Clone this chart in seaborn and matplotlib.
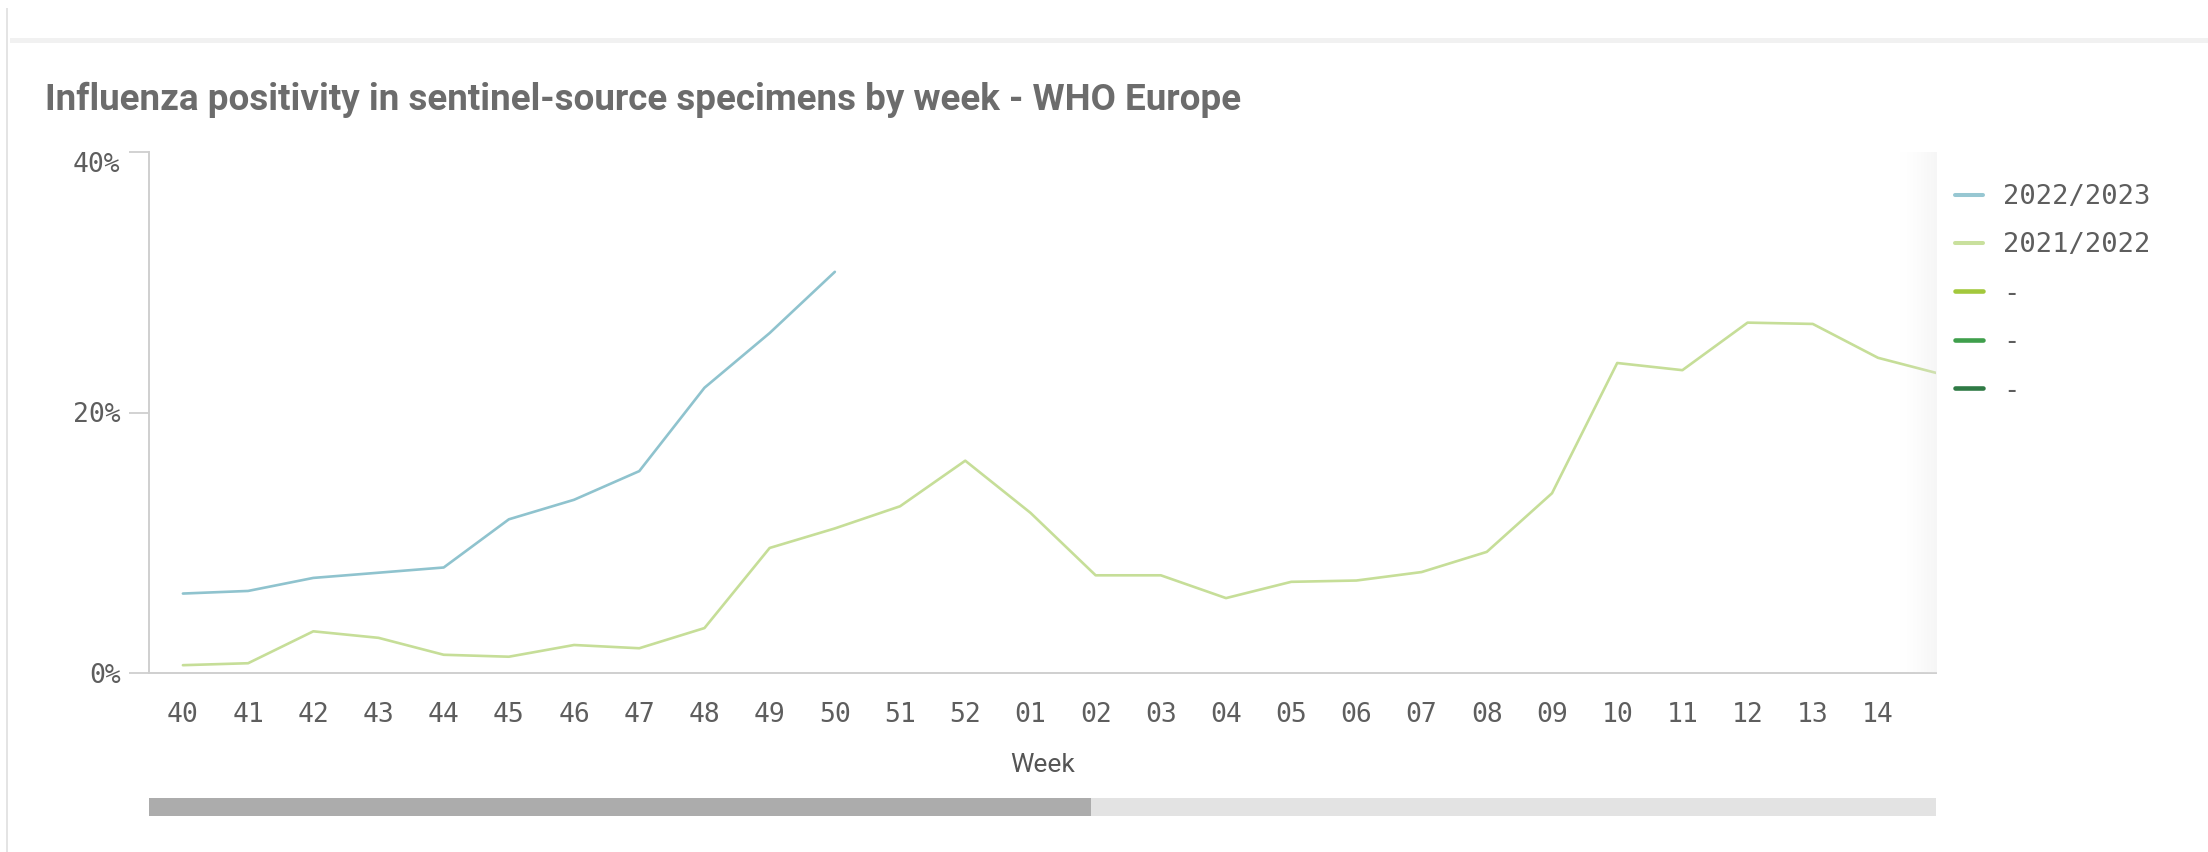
import numpy as np
import pandas as pd
import matplotlib
matplotlib.use("Agg")
import matplotlib.pyplot as plt
import seaborn as sns
from matplotlib.lines import Line2D
from matplotlib.patches import Rectangle
from matplotlib.ticker import FixedLocator, FuncFormatter

# ISO weeks of the season (week 15 sits just past the visible window)
weeks = ["40", "41", "42", "43", "44", "45", "46", "47", "48", "49", "50", "51", "52",
         "01", "02", "03", "04", "05", "06", "07", "08", "09", "10", "11", "12", "13",
         "14", "15"]

# Share of sentinel specimens testing positive for influenza (%)
season_2022_23 = [6.1, 6.3, 7.3, 7.7, 8.1, 11.8, 13.3, 15.5, 21.9, 26.1, 30.8]
season_2021_22 = [0.6, 0.75, 3.2, 2.7, 1.4, 1.25, 2.15, 1.9, 3.45, 9.6, 11.1, 12.8, 16.3,
                  12.3, 7.5, 7.5, 5.75, 7.0, 7.1, 7.75, 9.3, 13.8, 23.8, 23.25, 26.9,
                  26.8, 24.2, 22.9]

legend_labels = ["2022/2023", "2021/2022", "-", "-", "-"]
legend_colors = ["#97c7d2", "#c9e09d", "#a3c83c", "#3f9f4c", "#2f7a45"]
line_colors = {"2022/2023": "#8fc3ce", "2021/2022": "#c6de98"}

y_ticks = [0, 20, 40]

df = pd.concat([
    pd.DataFrame({"pos": np.arange(len(season_2022_23)),
                  "value": season_2022_23, "season": "2022/2023"}),
    pd.DataFrame({"pos": np.arange(len(season_2021_22)),
                  "value": season_2021_22, "season": "2021/2022"}),
], ignore_index=True)

sns.set_theme(style="white")
plt.rcParams["font.family"] = ["DejaVu Sans"]

W, H = 2208, 852
fig = plt.figure(figsize=(W / 100, H / 100), dpi=100)
fig.patch.set_facecolor("white")

# panel frame: thin band on top and left edge
fig.add_artist(Rectangle((10 / W, 1 - 43 / H), 1, 5 / H, transform=fig.transFigure,
                         facecolor="#f1f1f1", edgecolor="none"))
fig.add_artist(Rectangle((6 / W, 0), 2 / W, 1 - 8 / H, transform=fig.transFigure,
                         facecolor="#e4e4e4", edgecolor="none"))

ax = fig.add_axes([149 / W, (H - 673) / H, (1936 - 149) / W, (673 - 152) / H])

sns.lineplot(data=df, x="pos", y="value", hue="season", palette=line_colors,
             linewidth=1.9, legend=False, ax=ax)

ax.set_xlim(-0.52, 26.89)
ax.set_ylim(0, 40)

mono = "DejaVu Sans Mono"
tick_color = "#5e5e5e"
ax.xaxis.set_major_locator(FixedLocator(range(len(weeks))))
ax.set_xticklabels(weeks)
ax.yaxis.set_major_locator(FixedLocator(y_ticks))
ax.yaxis.set_major_formatter(FuncFormatter(lambda v, p: f"{v:.0f}%"))

ax.tick_params(axis="x", length=0, pad=21, labelsize=19, labelcolor=tick_color)
ax.tick_params(axis="y", length=14.4, width=1.3, color="#cfcfcf", pad=6,
               labelsize=19, labelcolor=tick_color, left=True)
for lab in ax.get_xticklabels() + ax.get_yticklabels():
    lab.set_family(mono)
ax.get_yticklabels()[-1].set_verticalalignment("top")

for side in ("top", "right"):
    ax.spines[side].set_visible(False)
for side in ("left", "bottom"):
    ax.spines[side].set_color("#cfcfcf")
    ax.spines[side].set_linewidth(1.4)

ax.set_xlabel("Week", family=["Roboto", "DejaVu Sans"],
              fontsize=19, color="#555555", va="center")
ax.xaxis.set_label_coords(0.5, (673 - 765) / (673 - 152))
ax.set_ylabel("")

# fade at the right edge of the scrolled plot area
grad = np.linspace(0, 1, 64).reshape(1, -1)
fade = np.zeros((1, 64, 4))
fade[..., :3] = 0.90
fade[..., 3] = grad ** 1.5 * 0.35
ax.imshow(fade, extent=(26.3, 26.89, 0, 40), aspect="auto", zorder=5,
          interpolation="bilinear")
ax.set_xlim(-0.52, 26.89)
ax.set_ylim(0, 40)

# title
fig.text(45 / W, 1 - 110 / H,
         "Influenza positivity in sentinel-source specimens by week - WHO Europe",
         family=["Roboto", "DejaVu Sans"], fontweight="bold",
         fontsize=26.5, color="#6c6c6c", va="baseline", ha="left")

# legend
handles = [Line2D([0], [0], color=c, lw=lw)
           for c, lw in zip(legend_colors, [2.9, 2.9, 3.3, 3.3, 3.3])]
leg = fig.legend(handles, legend_labels, loc="upper left",
                 bbox_to_anchor=(1955 / W, 1 - 184 / H), frameon=False,
                 borderpad=0, borderaxespad=0, handlelength=1.03, handletextpad=0.74,
                 labelspacing=0.83, prop={"family": mono, "size": 19.5})
for t in leg.get_texts():
    t.set_color(tick_color)

# scroll bar under the chart
fig.add_artist(Rectangle((149 / W, 1 - 816 / H), (1936 - 149) / W, 18 / H,
                         transform=fig.transFigure, facecolor="#e3e3e3", edgecolor="none"))
fig.add_artist(Rectangle((149 / W, 1 - 816 / H), (1091 - 149) / W, 18 / H,
                         transform=fig.transFigure, facecolor="#acacac", edgecolor="none"))

fig.savefig("out.png", dpi=100, facecolor="white")
